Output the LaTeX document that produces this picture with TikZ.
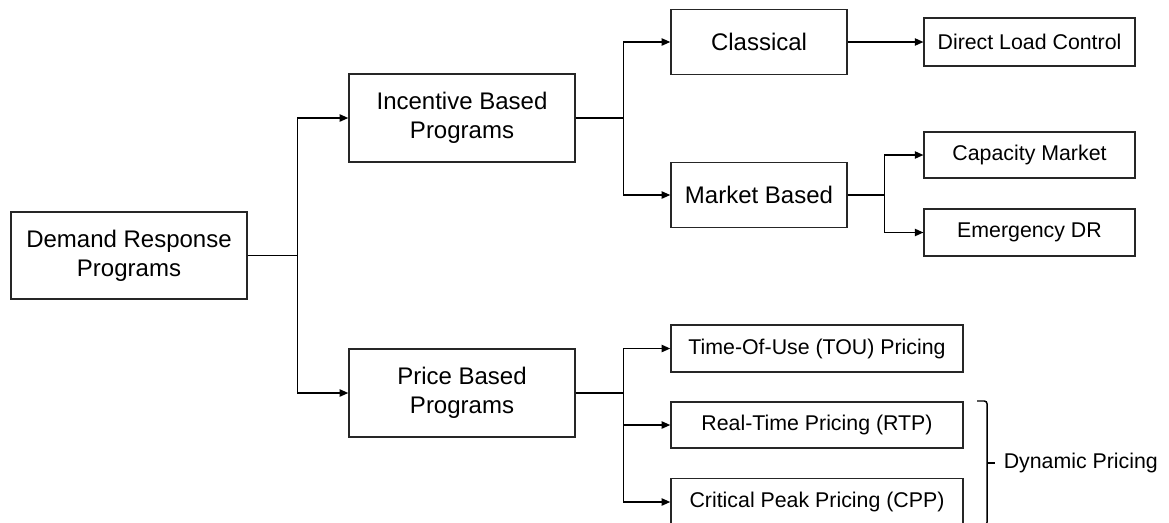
\documentclass[tikz,border=0pt]{standalone}
\usepackage{fontspec}
\setmainfont{Liberation Sans}
\usetikzlibrary{arrows.meta, positioning}

\begin{document}
\begin{tikzpicture}[
  x=0.75pt, y=-0.75pt,
  prog/.style={rectangle, draw=black!85, line width=1.1pt, align=center,
               font=\fontsize{18pt}{21.75pt}\selectfont, inner sep=0pt},
  leaf/.style={prog, font=\fontsize{16pt}{19pt}\selectfont},
  arrow/.style={-{Triangle[length=6.5pt,width=5.5pt]}, line width=1.1pt}
]
\useasboundingbox (0,0) rectangle (1169,522);

\node[prog, minimum width=177pt, minimum height=65pt] (dr) at (129,255.5) {Demand Response\\Programs};
\node[prog, minimum width=169.5pt, minimum height=66pt] (inc) at (462,118) {Incentive Based\\Programs};
\node[prog, minimum width=169.5pt, minimum height=66pt] (price) at (462,393) {Price Based\\Programs};

\node[prog, minimum width=132pt, minimum height=48.75pt] (cls) at (759,42) {Classical};
\node[prog, minimum width=132pt, minimum height=48.75pt] (mkt) at (759,195) {Market Based};

\node[leaf, minimum width=158pt, minimum height=36pt] (dlc) at (1029.5,42) {Direct Load Control};
\node[leaf, minimum width=158pt, minimum height=34.5pt] (cap) at (1029.5,155) {Capacity Market};
\node[leaf, minimum width=158pt, minimum height=35pt] (emg) at (1029.5,232.5) {Emergency DR};

\node[leaf, minimum width=219pt, minimum height=35pt] (tou) at (817,348.5) {Time-Of-Use (TOU) Pricing};
\node[leaf, minimum width=219pt, minimum height=34.5pt] (rtp) at (817,425) {Real-Time Pricing (RTP)};
\node[leaf, minimum width=219pt, minimum height=35pt] (cpp) at (817,502) {Critical Peak Pricing (CPP)};

\draw[arrow] (dr.east) -- ++(50,0) |- (inc.west);
\draw[arrow] (dr.east) -- ++(50,0) |- (price.west);

\draw[arrow] (inc.east) -- ++(48,0) |- (cls.west);
\draw[arrow] (inc.east) -- ++(48,0) |- (mkt.west);
\draw[arrow] (cls) -- (dlc);

\draw[arrow] (mkt.east) -- ++(37,0) |- (cap.west);
\draw[arrow] (mkt.east) -- ++(37,0) |- (emg.west);

\draw[arrow] (price.east) -- ++(48,0) |- (tou.west);
\draw[arrow] (price.east) -- ++(48,0) |- (rtp.west);
\draw[arrow] (price.east) -- ++(48,0) |- (cpp.west);

% bracket for the dynamic tariffs
\node[leaf, draw=none, anchor=west, inner xsep=6pt] (dyn) at (995,463) {Dynamic Pricing};
\draw[line width=1.1pt, rounded corners=2pt] (977,401) -- (987,401) -- (987,525) -- (977,525);
\draw[line width=1.1pt] (987,463) -- (dyn.west);
\end{tikzpicture}
\end{document}
